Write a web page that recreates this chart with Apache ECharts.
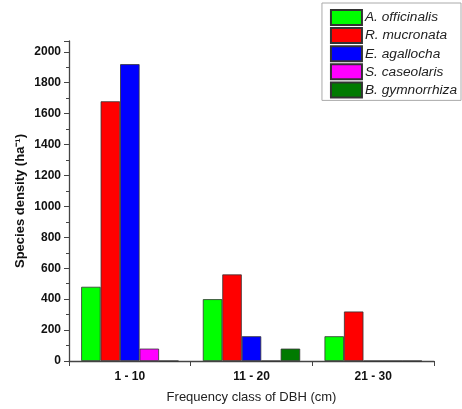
<!DOCTYPE html>
<html><head><meta charset="utf-8">
<script src="https://cdn.jsdelivr.net/npm/echarts@6/dist/echarts.min.js"></script>
<style>html,body{margin:0;padding:0;background:#fff}#c{width:462px;height:409px}</style>
</head><body><div id="c"></div>
<script>
const categories = ['1 - 10', '11 - 20', '21 - 30'];
const speciesNames = ['A. officinalis', 'R. mucronata', 'E. agallocha', 'S. caseolaris', 'B. gymnorrhiza'];
const aOfficinalis = [480, 400, 160];
const rMucronata = [1680, 560, 320];
const eAgallocha = [1920, 160, 0];
const sCaseolaris = [80, 0, 0];
const bGymnorrhiza = [0, 80, 0];
const colors = ['#00ff00', '#ff0000', '#0000ff', '#ff00ff', '#007a00'];
const values = [aOfficinalis, rMucronata, eAgallocha, sCaseolaris, bGymnorrhiza];
const font = '"Liberation Sans", Arial, sans-serif';

const chart = echarts.init(document.getElementById('c'));
chart.setOption({
  animation: false,
  textStyle: { fontFamily: font },
  grid: { left: 69, right: 28, top: 41, bottom: 48 },
  legend: {
    orient: 'vertical', right: 1, top: 3,
    itemWidth: 31, itemHeight: 15, itemGap: 1.1,
    padding: [6, 4, 2, 8],
    borderColor: '#aaa', borderWidth: 1,
    textStyle: { fontStyle: 'italic', fontSize: 13.7, lineHeight: 15, color: '#222', fontFamily: font, padding: [0, 0, 0, -2] },
    icon: 'rect',
    data: speciesNames
  },
  xAxis: {
    type: 'category', data: categories,
    axisLine: { lineStyle: { color: '#444', width: 1.3 } },
    axisTick: { show: true, length: 5, lineStyle: { color: '#444' } },
    axisLabel: { fontWeight: 'bold', fontSize: 12, color: '#111', margin: 10, fontFamily: font },
    name: 'Frequency class of DBH (cm)', nameLocation: 'middle', nameGap: 30, nameMoveOverlap: false,
    nameTextStyle: { fontSize: 13, color: '#222', fontFamily: font }
  },
  yAxis: {
    type: 'value', min: 0, max: 2070, interval: 200,
    splitLine: { show: false },
    axisLine: { show: true, lineStyle: { color: '#444', width: 1.3 } },
    axisTick: { show: true, length: 5, lineStyle: { color: '#444' } },
    minorTick: { show: true, splitNumber: 2, length: 3, lineStyle: { color: '#444' } },
    axisLabel: { fontWeight: 'bold', fontSize: 12, color: '#111', margin: 8, showMaxLabel: false, fontFamily: font, formatter: v => String(v) },
    name: 'Species density (ha⁻¹)', nameLocation: 'middle', nameGap: 42, nameMoveOverlap: false,
    nameTextStyle: { fontWeight: 'bold', fontSize: 13, color: '#111', fontFamily: font }
  },
  series: speciesNames.map((n, i) => ({
    name: n, type: 'bar', data: values[i],
    barGap: '0%', barCategoryGap: '20%',
    itemStyle: { color: colors[i], borderColor: '#333', borderWidth: 0.8 }
  }))
});
</script></body></html>
